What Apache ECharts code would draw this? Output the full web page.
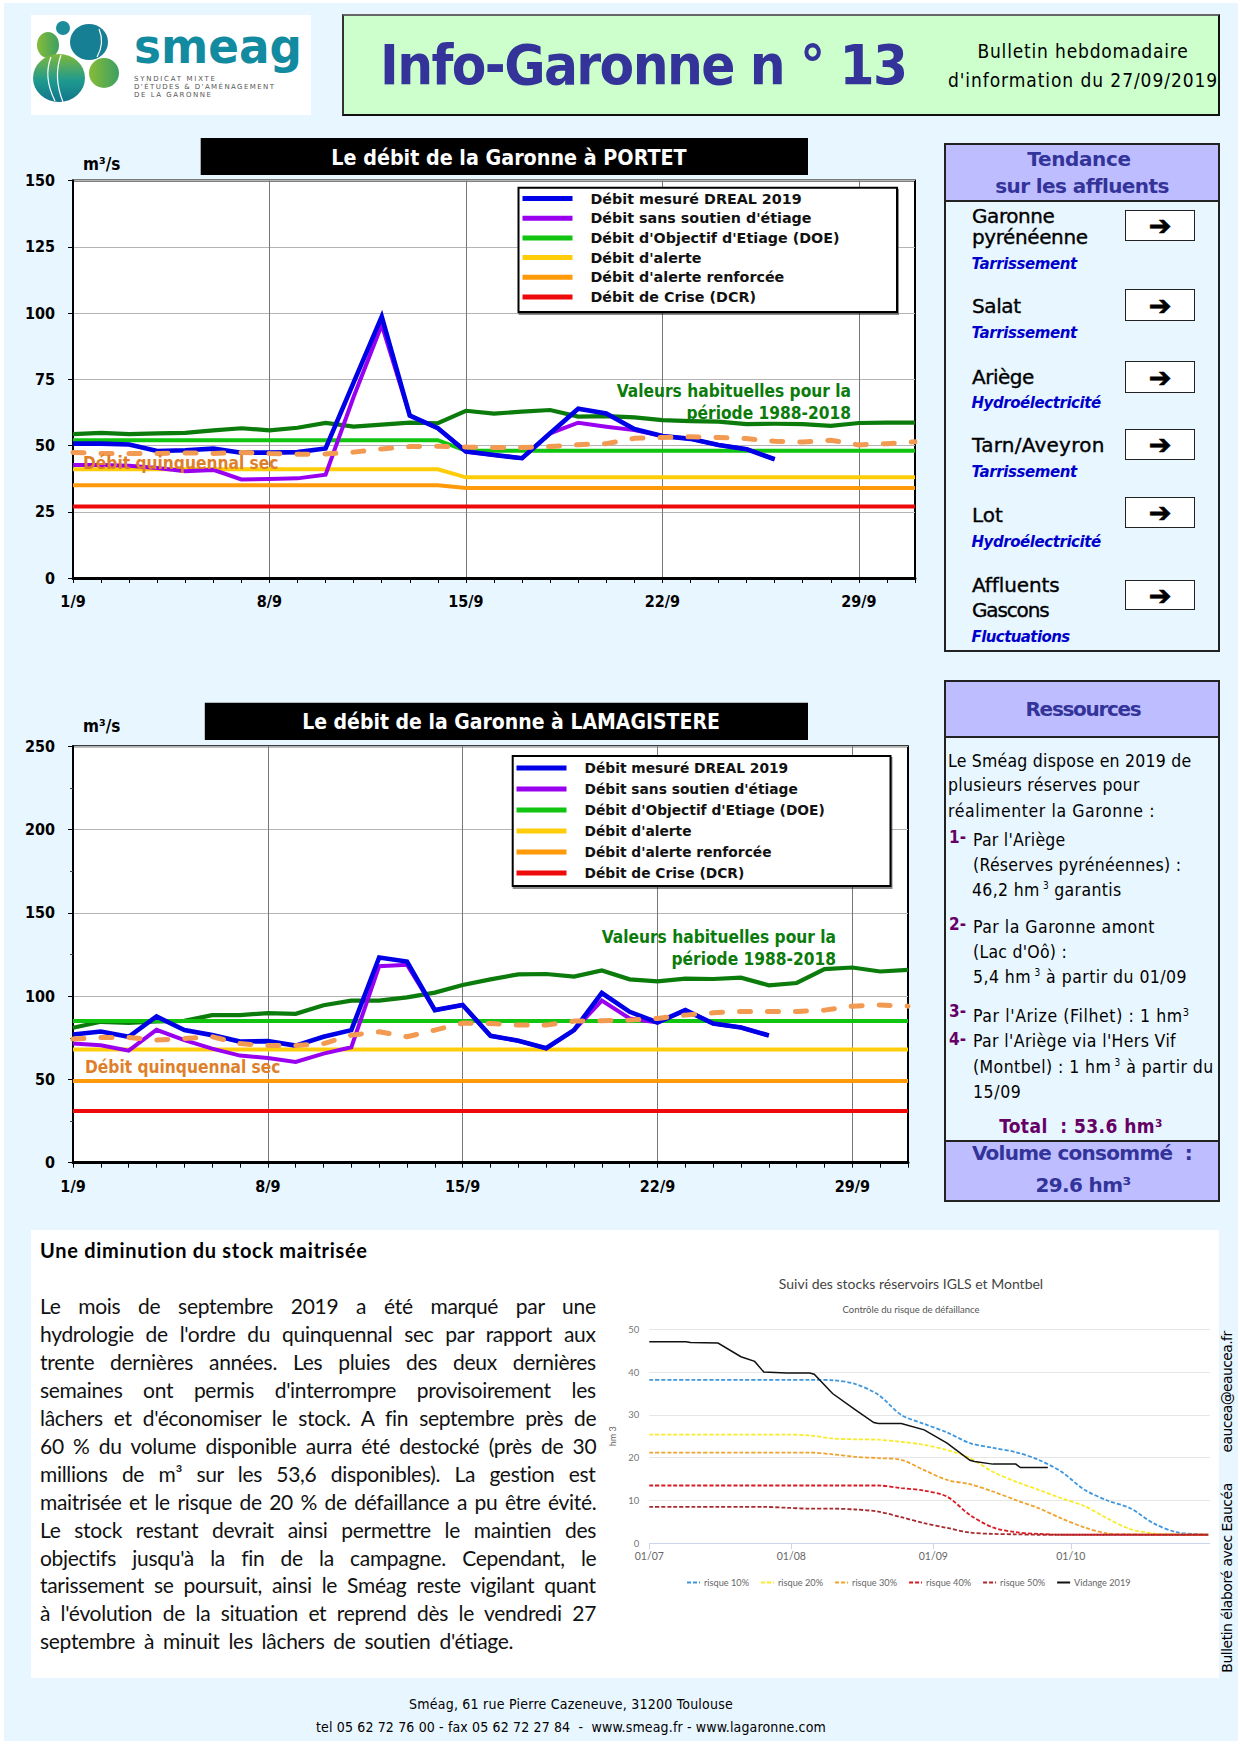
<!DOCTYPE html>
<html lang="fr"><head><meta charset="utf-8"><title>Info-Garonne n° 13</title>
<script src="https://cdn.jsdelivr.net/npm/echarts@6/dist/echarts.min.js"></script>
<style>
html,body{margin:0;padding:0;background:#fff}
#page{position:relative;width:1240px;height:1754px;overflow:hidden;background:#fff}
#bg{position:absolute;left:4px;top:3px;width:1234px;height:1738px;background:#E8F6FF}
.box{position:absolute;box-sizing:border-box}
.t{position:absolute;white-space:nowrap;line-height:1.1}
.chart{position:absolute}
</style></head><body><div id="page"><div id="bg"></div></div>
<script>
// ---------- DATA ----------
const days = ["1/9","2/9","3/9","4/9","5/9","6/9","7/9","8/9","9/9","10/9","11/9","12/9","13/9","14/9","15/9","16/9","17/9","18/9","19/9","20/9","21/9","22/9","23/9","24/9","25/9","26/9","27/9","28/9","29/9","30/9","1/10"];
const legendNames = ["Débit mesuré DREAL 2019","Débit sans soutien d'étiage","Débit d'Objectif d'Etiage (DOE)","Débit d'alerte","Débit d'alerte renforcée","Débit de Crise (DCR)"];

const portetMesure = [50.7,50.7,50.4,47.9,48.2,48.8,47.3,47.3,47.5,48.9,73.8,98.6,61.3,56.5,47.7,46.4,45.2,54.6,63.9,62.1,56.2,53.6,52.5,50.2,48.6,44.8,null,null,null,null,null];
const portetSans = [42.6,42.6,42.4,41.5,40.3,40.8,37.2,37.4,37.6,39,68.4,95.5,61.3,56.5,47.7,46.4,45.2,54.6,58.6,57.1,55.8,53.6,52.5,50.2,48.6,44.8,null,null,null,null,null];
const portetDOE = [52,52,52,52,52,52,52,52,52,52,52,52,52,52,48,48,48,48,48,48,48,48,48,48,48,48,48,48,48,48,48];
const portetAlerte = [41,41,41,41,41,41,41,41,41,41,41,41,41,41,38,38,38,38,38,38,38,38,38,38,38,38,38,38,38,38,38];
const portetRenf = [35,35,35,35,35,35,35,35,35,35,35,35,35,35,34,34,34,34,34,34,34,34,34,34,34,34,34,34,34,34,34];
const portetDCR = [27,27,27,27,27,27,27,27,27,27,27,27,27,27,27,27,27,27,27,27,27,27,27,27,27,27,27,27,27,27,27];
const portetHabit = [54.3,54.8,54.3,54.6,54.8,55.7,56.5,55.7,56.7,58.5,57.1,57.9,58.6,58.4,63.1,62,62.8,63.4,60.9,61.1,60.6,59.6,59.2,59,58.1,58.2,58.1,57.4,58.5,58.6,58.6];
const portetQuinq = [47.4,47,47,47,47.2,47,47.4,47,46.7,46.8,47.5,48.7,49.6,49.7,49.4,49.2,49.2,49.6,50.3,50.7,52.7,53,53.3,53,52.6,51.6,51.3,52,50.2,50.7,51.4];

const lamaMesure = [77,78.8,75.6,87.8,79.6,76.6,72.7,73,70.3,75.6,79.6,123.2,120.8,91.6,94.7,76.2,73.2,68.7,79.6,101.9,90.6,84.2,91.6,83.6,81.2,76.4,null,null,null,null,null];
const lamaSans = [71.5,70.5,67.3,79.8,73.6,68.5,64.3,62.9,60.5,65.5,69.3,118,118.8,91.6,94.7,76.2,73.2,68.7,79.6,97.3,86.6,84.2,91.6,83.6,81.2,76.4,null,null,null,null,null];
const lamaDOE = [85,85,85,85,85,85,85,85,85,85,85,85,85,85,85,85,85,85,85,85,85,85,85,85,85,85,85,85,85,85,85];
const lamaAlerte = [68,68,68,68,68,68,68,68,68,68,68,68,68,68,68,68,68,68,68,68,68,68,68,68,68,68,68,68,68,68,68];
const lamaRenf = [49,49,49,49,49,49,49,49,49,49,49,49,49,49,49,49,49,49,49,49,49,49,49,49,49,49,49,49,49,49,49];
const lamaDCR = [31,31,31,31,31,31,31,31,31,31,31,31,31,31,31,31,31,31,31,31,31,31,31,31,31,31,31,31,31,31,31];
const lamaHabit = [81,84.6,84,84.8,85.2,88.6,88.6,89.8,89.4,94.5,97.3,97.3,99.3,102.1,106.7,110.1,113.1,113.3,111.7,115.4,110.1,108.9,110.5,110.3,111.1,106.5,107.9,116.2,117.2,114.8,115.8];
const lamaQuinq = [74.2,75.2,75.2,73.6,74.6,75.6,71.5,70.3,70.3,71.5,76.6,78.6,75.6,79.6,83.8,83.6,82.6,82.6,85,85.2,85.6,86.6,88.6,90,90.8,90.8,90.8,91.6,94,94.7,94];

// Stocks: day number counted from 01/07
const stockDays = [0,5,10,15,20,25,30,35,40,45,50,55,60,65,70,75,80,85,90,95,100,105,110,115,120,122];
const risque10 = [38.2,38.2,38.2,38.2,38.2,38.2,38.2,38.2,38.1,37.2,34.7,30,27.9,25.9,23.4,22.3,21.3,19.5,16.7,12.5,10,8.2,4.7,2.6,2.1,2];
const risque20 = [25.4,25.4,25.4,25.4,25.4,25.4,25.4,25.2,24.5,24.3,24.2,23.7,23,21.8,19.9,16.7,14.4,12.5,10.5,8.7,5.8,3.3,2.3,2.1,2,2];
const risque30 = [21.2,21.2,21.2,21.2,21.2,21.2,21.2,21.2,20.8,20.2,19.9,19.5,17.1,14.8,13.8,12.1,10.1,8.2,5.8,3.7,2.3,2.1,2,2,2,2];
const risque40 = [13.5,13.5,13.5,13.5,13.5,13.5,13.5,13.5,13.5,13.5,13.5,12.9,12.3,10.9,6.6,3.7,2.6,2.2,2,2,2,2,2,2,2,2];
const risque50 = [8.5,8.5,8.5,8.5,8.5,8.5,8.3,8.1,8.1,7.9,7.4,6.1,4.7,3.6,2.5,2.2,2.1,2,2,2,2,2,2,2,2,2];
const vidangeDays = [0,8,9,15,20,23,25,30,35,36,40,45,49,50,55,60,65,70,71,75,80,81,87];
const vidange2019 = [47.1,47.1,46.9,46.8,43.6,42.5,40,39.8,39.8,39.5,35,31.2,28.2,28,28,26.5,23.4,19.4,19.1,18.5,18.5,17.7,17.7];
const monthStarts = [0,31,62,92];
const monthLabels = ["01/07","01/08","01/09","01/10"];
const stockNames = ["risque 10%","risque 20%","risque 30%","risque 40%","risque 50%","Vidange 2019"];

// ---------- PAGE TEXT / BOXES ----------
const page = document.getElementById('page');
const BLUE='#333399', PURPLE='#660066', COND='"DejaVu Sans Condensed","DejaVu Sans",sans-serif', DV='"DejaVu Sans",sans-serif';
function box(x,y,w,h,css){const d=document.createElement('div');d.className='box';d.style.cssText=`left:${x}px;top:${y}px;width:${w}px;height:${h}px;${css||''}`;page.appendChild(d);return d;}
function T(txt,x,y,o){o=o||{};const d=document.createElement('div');d.className='t';d.innerHTML=txt;
  const tr=o.c?'translate(-50%,-50%)':o.r?'translate(-100%,-50%)':'translateY(-50%)';
  d.style.cssText=`left:${x}px;top:${y}px;transform:${tr} ${o.rot||''};font:${o.w8||'400'} ${o.s||17}px ${o.f||COND};color:${o.col||'#000'};${o.css||''}`;
  page.appendChild(d);
  if(o.fit){const w=d.offsetWidth,n=d.textContent.length;d.style.letterSpacing=((o.fit-w)/n).toFixed(3)+'px';}
  return d;}

box(31,15,280,100,'background:#fff');
box(342,14,878,102,'background:#CCFFCC;border:2px solid #111;border-top-color:#666;border-left-color:#333');
T('Info-Garonne n ° 13',380,64,{s:56,w8:'700',col:BLUE,css:'white-space:pre',fit:527});
T('Bulletin hebdomadaire',1083,50.5,{c:1,s:19,fit:211});
T("d'information du 27/09/2019",1083,80,{c:1,s:19,fit:270});

// logo
const logo=document.createElement('div');logo.style.cssText='position:absolute;left:31px;top:15px;width:280px;height:100px';
logo.innerHTML=`<svg width="280" height="100" xmlns="http://www.w3.org/2000/svg">
<defs><linearGradient id="g1" x1="0" y1="0" x2="0" y2="1"><stop offset="0" stop-color="#7FB83A"/><stop offset=".55" stop-color="#1F9A8F"/><stop offset="1" stop-color="#12748C"/></linearGradient>
<linearGradient id="g2" x1="0" y1="0" x2="1" y2="0"><stop offset="0" stop-color="#86BC38"/><stop offset="1" stop-color="#3D9F62"/></linearGradient></defs>
<ellipse cx="32" cy="13" rx="7" ry="7" fill="#1C8C9A"/><ellipse cx="17" cy="30" rx="11" ry="13" fill="url(#g2)"/>
<ellipse cx="58" cy="27" rx="19" ry="18" fill="#167F93"/><path d="M68 14Q74 28 66 42" stroke="#fff" stroke-width="1.2" fill="none"/>
<ellipse cx="28" cy="63" rx="26" ry="24" fill="url(#g1)"/><path d="M20 42Q12 62 24 86M30 40Q22 62 32 87" stroke="#fff" stroke-width="1.2" fill="none"/>
<ellipse cx="73" cy="58" rx="15" ry="15" fill="url(#g2)"/>
<text x="103" y="48" font-family="DejaVu Sans" font-weight="700" font-size="48" fill="#128AA0" textLength="168" lengthAdjust="spacingAndGlyphs">smeag</text>
<g font-family="DejaVu Sans" font-size="7" fill="#555"><text x="103" y="66" textLength="81">SYNDICAT MIXTE</text><text x="103" y="74" textLength="140">D'ÉTUDES &amp; D'AMÉNAGEMENT</text><text x="103" y="82" textLength="77">DE LA GARONNE</text></g></svg>`;
page.appendChild(logo);

// Tendance panel
box(944,143,275.5,509,'border:2px solid #222');
box(944,143,275.5,59,'background:#BDBDFF;border:2px solid #222');
T('Tendance',1079,159,{c:1,s:20,w8:'700',f:DV,col:BLUE,fit:103});
T('sur les affluents',1082,186,{c:1,s:20,w8:'700',f:DV,col:BLUE,fit:172});
const tendNames=[['Garonne',216],['pyrénéenne',236.5],['Salat',306],['Ariège',376.5],['Tarn/Aveyron',445],['Lot',515],['Affluents',585],['Gascons',610]];
const tendWidths=[82,116,49,62,133,31,88,77];
tendNames.forEach((r,i)=>T(r[0],972,r[1],{s:20,f:DV,css:'-webkit-text-stroke:.35px #000',fit:tendWidths[i]}));
const tendStates=[['Tarrissement',263.5,105],['Tarrissement',332.5,105],['Hydroélectricité',403,129],['Tarrissement',472,105],['Hydroélectricité',542,129],['Fluctuations',636.5,98]];
tendStates.forEach(r=>T(r[0],971.5,r[1],{s:15,f:DV,w8:'italic 700',col:'#0000CC',fit:r[2]}));
[[209.5,31],[289,32],[361,32],[428.5,31],[496.5,31],[580,30]].forEach(r=>{box(1125,r[0],70,r[1],'background:#fff;border:1.5px solid #222');T('➔',1160,r[0]+r[1]/2,{c:1,s:27,f:DV,w8:'700',css:'-webkit-text-stroke:.7px #000'});});

// Ressources panel
box(944,680,275.5,522,'border:2px solid #222');
box(944,680,275.5,58,'background:#BDBDFF;border:2px solid #222');
box(944,1140,275.5,62,'background:#BDBDFF;border:2px solid #222');
T('Ressources',1083,708.5,{c:1,s:20,w8:'700',f:DV,col:BLUE,fit:115});
const resLines=[['Le Sméag dispose en 2019 de',948,760.5,243],['plusieurs réserves pour',948,785,192],['réalimenter la Garonne :',948,810.5,207],
["Par l'Ariège",973,840,93],['(Réserves pyrénéennes) :',973,865,208],['46,2 hm<sup style="font-size:10px">&nbsp;3</sup> garantis',972,890,149],
['Par la Garonne amont',973,927,182],["(Lac d'Oô) :",973,952,94],['5,4 hm<sup style="font-size:10px">&nbsp;3</sup> à partir du 01/09',973,977,214],
["Par l'Arize (Filhet) : 1 hm<sup style='font-size:11px'>3</sup>",973,1016,217],["Par l'Ariège via l'Hers Vif",973,1040.5,203],['(Montbel) : 1 hm<sup style="font-size:10px">&nbsp;3</sup> à partir du',973,1066.5,241],['15/09',973,1091.5,48]];
resLines.forEach(r=>T(r[0],r[1],r[2],{s:17.5,fit:r[3]}));
[['1-',837],['2-',924],['3-',1011],['4-',1038.5]].forEach(r=>T(r[0],949,r[1],{s:17,w8:'700',col:PURPLE}));
T('Total  : 53.6 hm³',1081,1125.5,{c:1,s:19,w8:'700',col:PURPLE,css:'white-space:pre',fit:164});
T('Volume consommé  :',1082,1153,{c:1,s:20,w8:'700',f:DV,col:BLUE,css:'white-space:pre',fit:220});
T('29.6 hm³',1083,1184.5,{c:1,s:20,w8:'700',f:DV,col:BLUE,fit:95});

// Texte
box(31,1230,1188,448,'background:#fff');
const LATO='Lato,"Open Sans",sans-serif';
T('Une diminution du stock maitrisée',40,1249.5,{s:20,w8:'700',f:LATO,fit:328});
const paraLines=["Le mois de septembre 2019 a été marqué par une","hydrologie de l'ordre du quinquennal sec par rapport aux","trente dernières années. Les pluies des deux dernières","semaines ont permis d'interrompre provisoirement les","lâchers et d'économiser le stock. A fin septembre près de","60 % du volume disponible aurra été destocké (près de 30","millions de m³ sur les 53,6 disponibles). La gestion est","maitrisée et le risque de 20 % de défaillance a pu être évité.","Le stock restant devrait ainsi permettre le maintien des","objectifs jusqu'à la fin de la campagne. Cependant, le","tarissement se poursuit, ainsi le Sméag reste vigilant quant","à l'évolution de la situation et reprend dès le vendredi 27","septembre à minuit les lâchers de soutien d'étiage."];
const paraY=[1305,1333,1361,1389,1417,1445,1473,1501,1529,1557,1584,1612,1640];
paraLines.forEach((l,i)=>{const d=T(l,40,paraY[i],{s:21,f:LATO,col:'#111',css:'letter-spacing:-.3px'});
  const target=i==paraLines.length-1?473:556;const sp=l.split(' ').length-1;d.style.wordSpacing=((target-d.offsetWidth)/sp).toFixed(3)+'px';});

T('Sméag, 61 rue Pierre Cazeneuve, 31200 Toulouse',571,1703.5,{c:1,s:14,fit:324});
T('tel 05 62 72 76 00 - fax 05 62 72 27 84  -  www.smeag.fr - www.lagaronne.com',571,1727,{c:1,s:14,css:'white-space:pre',fit:510});
T('Bulletin élaboré avec Eaucéa',1227,1578,{c:1,s:14,f:DV,rot:'rotate(-90deg)',fit:189});
T('eaucea@eaucea.fr',1227,1392,{c:1,s:14,f:DV,rot:'rotate(-90deg)',fit:121});

// ---------- CHARTS ----------
function mount(x,y,w,h){const d=document.createElement('div');d.className='chart';d.style.cssText=`left:${x}px;top:${y}px;width:${w}px;height:${h}px`;page.appendChild(d);return echarts.init(d,null,{renderer:'svg'});}
function serie(name,data,color,width,extra){return Object.assign({name,type:'line',data,showSymbol:false,symbol:'none',animation:false,lineStyle:{color,width,cap:'butt',join:'miter'},itemStyle:{color}},extra||{});}

function debitChart(c,cfg){
  c.setOption({animation:false,
   title:{text:cfg.title,left:cfg.titleX,top:cfg.titleY,textAlign:'center',textStyle:{color:'#fff',fontSize:cfg.titleSize,fontWeight:'bold',fontFamily:'DejaVu Sans Condensed'},z:12},
   grid:{left:53,top:cfg.top,width:cfg.w,height:cfg.h,show:true,backgroundColor:'#fff',borderColor:'#000',borderWidth:2},
   legend:{orient:'vertical',left:cfg.legX,top:cfg.legY,padding:0,itemWidth:50,itemHeight:14,itemGap:cfg.legGap,data:legendNames,z:11,selectedMode:false,itemStyle:{opacity:0},lineStyle:{width:5},
     textStyle:{fontFamily:'DejaVu Sans',fontWeight:'bold',fontSize:cfg.legFont,color:'#111',padding:[0,0,0,13]}},
   xAxis:{type:'category',boundaryGap:false,data:days,
     axisLine:{lineStyle:{color:'#000',width:3}},axisTick:{interval:0,length:5,lineStyle:{color:'#000',width:1}},
     splitLine:{show:true,interval:6,lineStyle:{color:'#777',width:1}},
     axisLabel:{interval:6,margin:cfg.labM,color:'#000',fontSize:16,fontWeight:'bold',fontFamily:'DejaVu Sans Condensed'}},
   yAxis:{type:'value',min:0,max:cfg.max,interval:cfg.step,
     axisLine:{show:true,lineStyle:{color:'#000',width:2}},axisTick:{show:true,length:5,lineStyle:{color:'#000'}},minorTick:{show:cfg.minor,splitNumber:2,length:3,lineStyle:{color:'#444'}},
     splitLine:{lineStyle:{color:'#b4b4b4',width:1.2}},
     axisLabel:{margin:18,color:'#000',fontSize:16,fontWeight:'bold',fontFamily:'DejaVu Sans Condensed'}},
   series:[
     serie('Valeurs habituelles pour la période 1988-2018',cfg.s.habit,'#0B7B0B',4.2),
     serie(legendNames[2],cfg.s.doe,'#10C410',4),
     serie(legendNames[3],cfg.s.alerte,'#FFCC0A',4),
     serie(legendNames[4],cfg.s.renf,'#FF9A0A',4),
     serie(legendNames[5],cfg.s.dcr,'#EE0A0A',4),
     serie(legendNames[1],cfg.s.sans,'#9A00F0',4),
     serie(legendNames[0],cfg.s.mesure,'#0000E6',4.6),
     serie('Débit quinquennal sec',cfg.s.quinq,'#F29A52',5,{lineStyle:{color:'#F29A52',width:5,type:[11,17],cap:'round'}})
   ],
   graphic:[
     {type:'rect',z:1,silent:true,shape:{x:cfg.barX,y:cfg.barY,width:cfg.barW,height:cfg.barH},style:{fill:'#000'}},
     {type:'rect',z:10,silent:true,shape:cfg.legBox,style:{fill:'#fff',stroke:'#000',lineWidth:2,shadowColor:'rgba(0,0,0,.45)',shadowOffsetX:1,shadowOffsetY:2,shadowBlur:1}},
     {type:'text',z:9,silent:true,style:{text:'m³/s',x:63,y:cfg.unitY,fill:'#000',font:'bold 17px "DejaVu Sans Condensed"',textVerticalAlign:'middle'}},
     {type:'text',z:9,silent:true,style:{text:'Valeurs habituelles pour la\npériode 1988-2018',x:cfg.habX,y:cfg.habY,fill:'#0B7B0B',align:'right',textAlign:'right',lineHeight:22,font:'bold 17.2px "DejaVu Sans Condensed"'}},
     {type:'text',z:9,silent:true,style:{text:'Débit quinquennal sec',x:cfg.quiX,y:cfg.quiY,fill:'#E07F2A',font:'bold 17.2px "DejaVu Sans Condensed"',textVerticalAlign:'middle'}}
   ]});
}
debitChart(mount(20,130,920,490),{title:'Le débit de la Garonne à PORTET',titleX:484,titleY:12,titleSize:21.3,top:50.5,w:842,h:397.5,max:150,step:25,minor:false,labM:15,
  legX:500,legY:61.5,legGap:5.7,legFont:14.3,legBox:{x:498.5,y:57.7,width:378.5,height:124.3},barX:180.7,barY:8,barW:607.3,barH:37,unitY:34,
  habX:831,habY:249.5,quiX:63,quiY:332.7,
  s:{habit:portetHabit,doe:portetDOE,alerte:portetAlerte,renf:portetRenf,dcr:portetDCR,sans:portetSans,mesure:portetMesure,quinq:portetQuinq}});
debitChart(mount(20,690,920,510),{title:'Le débit de la Garonne à LAMAGISTERE',titleX:486,titleY:16,titleSize:21,top:56.3,w:835,h:416.4,max:250,step:50,minor:true,labM:16,
  legX:494,legY:71,legGap:7,legFont:13.8,legBox:{x:492.7,y:66,width:377.8,height:130},barX:184.8,barY:12.7,barW:603.2,barH:37.3,unitY:36,
  habX:816,habY:235.5,quiX:65,quiY:377,
  s:{habit:lamaHabit,doe:lamaDOE,alerte:lamaAlerte,renf:lamaRenf,dcr:lamaDCR,sans:lamaSans,mesure:lamaMesure,quinq:lamaQuinq}});

const pair=(xs,ys)=>xs.map((x,i)=>[x,ys[i]]);
function dash(name,ys,color){return serie(name,pair(stockDays,ys),color,1.8,{lineStyle:{color,width:1.8,type:[4,2]},smooth:.3});}
mount(590,1260,640,360).setOption({animation:false,
  title:[{text:'Suivi des stocks réservoirs IGLS et Montbel',left:316,top:11,textAlign:'center',textStyle:{fontFamily:'Lato',fontWeight:'normal',fontSize:14,color:'#444'}},
         {text:'Contrôle du risque de défaillance',left:316,top:39,textAlign:'center',textStyle:{fontFamily:'Lato',fontWeight:'normal',fontSize:9.5,color:'#555'}}],
  grid:{left:59.3,top:69.3,width:560.5,height:214},
  legend:{left:96,top:318,padding:0,itemWidth:13,itemHeight:8,itemGap:11,data:stockNames,selectedMode:false,itemStyle:{opacity:0},textStyle:{fontFamily:'Lato',fontSize:9.2,color:'#666',padding:[0,0,0,-1]}},
  xAxis:{type:'value',min:0,max:122.35,splitLine:{show:false},axisLine:{lineStyle:{color:'#ccd6eb'}},
    axisTick:{show:true,length:6,customValues:monthStarts,lineStyle:{color:'#ccd6eb'}},
    axisLabel:{customValues:monthStarts,formatter:v=>monthLabels[monthStarts.indexOf(v)],color:'#666',fontSize:10.5,fontFamily:'Lato',margin:7}},
  yAxis:{type:'value',min:0,max:50,interval:10,name:'hm 3',nameLocation:'middle',nameGap:16,nameTextStyle:{color:'#666',fontSize:9,fontFamily:'Lato'},axisLine:{show:false},axisTick:{show:false},
    splitLine:{lineStyle:{color:'#e6e6e6',width:1}},axisLabel:{margin:10,color:'#777',fontSize:9.5,fontFamily:'Lato'}},
  series:[dash(stockNames[0],risque10,'#3E97DE'),dash(stockNames[1],risque20,'#F8EC28'),dash(stockNames[2],risque30,'#F0A32C'),dash(stockNames[3],risque40,'#DA1A22'),dash(stockNames[4],risque50,'#A92A2E'),
    serie(stockNames[5],pair(vidangeDays,vidange2019),'#111',1.5)]
});
</script></body></html>
